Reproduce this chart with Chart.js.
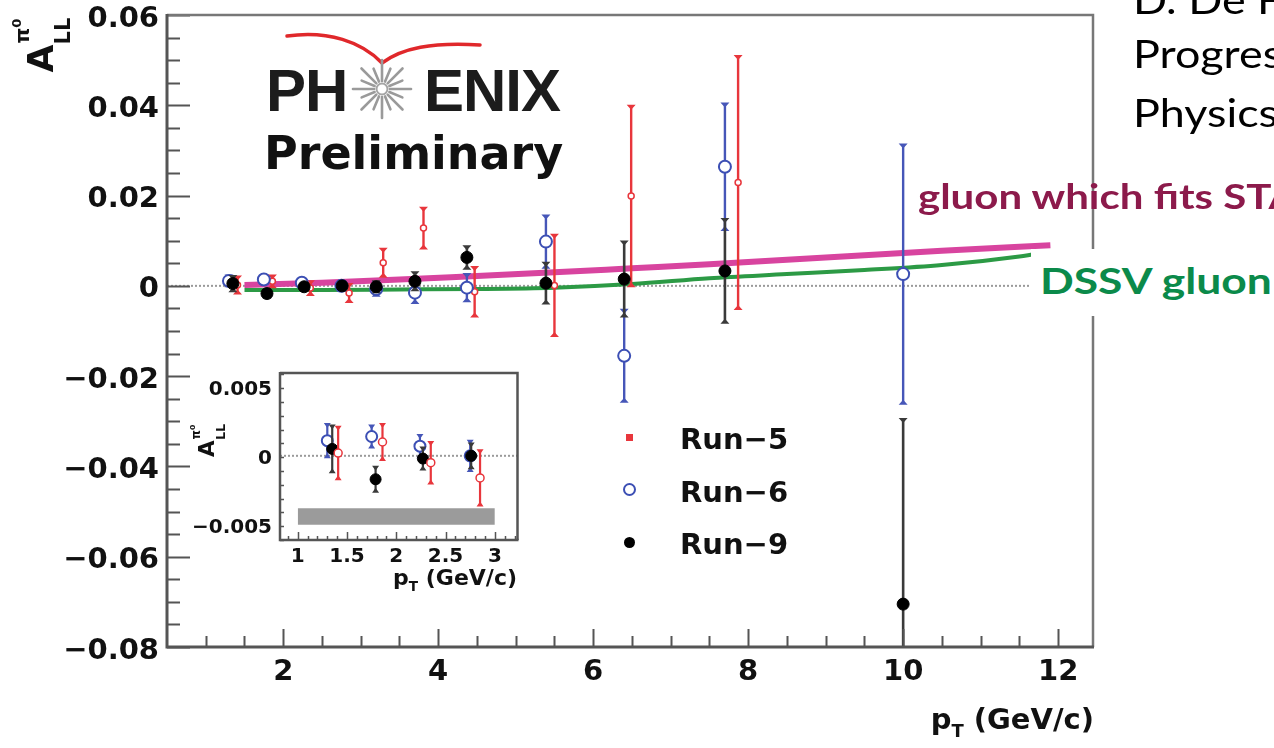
<!DOCTYPE html>
<html>
<head>
<meta charset="utf-8">
<script src="https://cdn.jsdelivr.net/npm/chart.js@4.4.1/dist/chart.umd.min.js"></script>
<style>
  html, body { margin:0; padding:0; background:#fff; }
  #wrap { position:relative; width:1274px; height:748px; overflow:hidden; background:#fff; }
  canvas { position:absolute; }
  .t { position:absolute; white-space:nowrap; }
  .dv { font-family:'DejaVu Sans', sans-serif; font-weight:bold; color:#111; line-height:1.164; }
  .lato { font-family:Lato, 'Open Sans', sans-serif; line-height:1.2; transform-origin:0 0; }
  .sub { font-size:0.62em; position:relative; top:0.42em; }
</style>
</head>
<body>
<div id="wrap">
  <canvas id="main" width="1274" height="748" style="left:0;top:0"></canvas>
  <canvas id="inset" width="335" height="240" style="left:190px;top:365px"></canvas>

  <!-- PHENIX logo -->
  <svg class="t" style="left:0;top:0" width="600" height="200">
    <path d="M287,36 C328,30 362,42 382,63 C402,48 432,42 480,45" fill="none" stroke="#e0282b" stroke-width="3.5" stroke-linecap="round"/>
    <g stroke="#9a9a9a" stroke-width="2.6" stroke-linecap="round" id="star"></g>
    <circle cx="382" cy="89" r="5.5" fill="#fff" stroke="#a5a5a5" stroke-width="2"/>
  </svg>
  <div class="t" style="left:266px;top:57px;font-family:'Liberation Sans',Arial,sans-serif;font-weight:bold;font-size:60px;line-height:1.117;color:#1c1c1c;letter-spacing:-1px">PH</div>
  <div class="t" style="left:424px;top:57px;font-family:'Liberation Sans',Arial,sans-serif;font-weight:bold;font-size:60px;line-height:1.117;color:#1c1c1c;letter-spacing:-1px">ENIX</div>
  <div class="t dv" style="left:264px;top:127px;font-size:46px">Preliminary</div>

  <!-- legend -->
  <div class="t" style="left:626px;top:434px;width:7px;height:7px;background:#e8363c"></div>
  <div class="t" style="left:623px;top:483px;width:9px;height:9px;border:2px solid #3c4fb4;border-radius:50%;background:#fff"></div>
  <div class="t" style="left:624px;top:537px;width:11px;height:11px;border-radius:50%;background:#000"></div>
  <div class="t dv" style="left:680px;top:423px;font-size:29px">Run−5</div>
  <div class="t dv" style="left:680px;top:476px;font-size:29px">Run−6</div>
  <div class="t dv" style="left:680px;top:528px;font-size:29px">Run−9</div>

  <!-- axis titles -->
  <div class="t dv" style="right:180px;top:703px;font-size:29px">p<span class="sub">T</span> (GeV/c)</div>
  <div class="t dv" style="right:757px;top:565px;font-size:22px">p<span class="sub">T</span> (GeV/c)</div>
  <div id="ytitle" class="t" style="left:13px;top:15px;width:58px;height:57px"></div>
  <div id="ytitle2" class="t" style="left:179px;top:411px;width:58px;height:57px;transform:scale(0.6)"></div>

  <!-- right-side annotations -->
  <div class="t lato" style="left:1133px;top:-24px;font-size:39px;color:#000;transform:scaleX(1.15)">D. De Florian</div>
  <div class="t lato" style="left:1133px;top:30px;font-size:39px;color:#000;transform:scaleX(1.15)">Progress</div>
  <div class="t lato" style="left:1133px;top:89px;font-size:39px;color:#000;transform:scaleX(1.15)">Physics</div>
  <div class="t lato" style="left:918px;top:174px;font-size:35px;font-weight:bold;color:#8c1a4b;transform:scaleX(1.2)">gluon which fits STAR</div>
  <div class="t" style="left:1031px;top:249px;width:250px;height:67px;background:#fff"></div>
  <div class="t lato" style="left:1040px;top:258px;font-size:37px;font-weight:bold;color:#0b8a4a;transform:scaleX(1.2)">DSSV gluon</div>
</div>

<script>
// ---------------- data ----------------
const xTickValues = [2, 4, 6, 8, 10, 12];
const yTickValues = [-0.08, -0.06, -0.04, -0.02, 0, 0.02, 0.04, 0.06];
const insetXTickValues = [1, 1.5, 2, 2.5, 3];
const insetYTickValues = [-0.005, 0, 0.005];

// Run-5 (red)
const run5X   = [1.41, 1.86, 2.35, 2.85, 3.29, 3.81, 4.47, 5.50, 6.49, 7.87];
const run5Y   = [0.0002, 0.0010, -0.0005, -0.0016, 0.0051, 0.0128, -0.0013, 0.0001, 0.0199, 0.0229];
const run5Err = [0.0019, 0.0013, 0.0015, 0.0020, 0.0031, 0.0045, 0.0055, 0.0112, 0.0200, 0.0280];
// Run-6 (blue)
const run6X   = [1.30, 1.75, 2.24, 2.75, 3.20, 3.70, 4.37, 5.39, 6.40, 7.70, 10.0];
const run6Y   = [0.0011, 0.0014, 0.0007, 0.0000, -0.0007, -0.0015, -0.0004, 0.0098, -0.0155, 0.0264, 0.0026];
const run6Err = [0.0012, 0.0008, 0.0008, 0.0011, 0.0015, 0.0023, 0.0030, 0.0058, 0.0102, 0.0140, 0.0287];
// Run-9 (black)
const run9X   = [1.35, 1.79, 2.27, 2.76, 3.20, 3.70, 4.37, 5.39, 6.40, 7.70, 10.0];
const run9Y   = [0.0005, -0.0017, -0.0002, 0.0000, -0.0002, 0.0010, 0.0063, 0.0006, 0.0015, 0.0033, -0.0705];
const run9Err = [0.0017, 0.0009, 0.0008, 0.0009, 0.0012, 0.0020, 0.0025, 0.0045, 0.0083, 0.0115, 0.0410];

// theory curves
const starFitX = [1.5, 2.5, 3.5, 4.5, 5.5, 6.5, 7.5, 8.5, 9.5, 10.5, 11.9];
const starFitY = [0.0002, 0.0007, 0.0014, 0.0022, 0.0030, 0.0039, 0.0048, 0.0058, 0.0068, 0.0078, 0.0090];
const dssvX = [1.5, 2.5, 3.5, 4.5, 5.5, 6.5, 7.5, 8.5, 9.5, 10.5, 11.5, 11.9];
const dssvY = [-0.0009, -0.0009, -0.0008, -0.0007, -0.0004, 0.0004, 0.0017, 0.0026, 0.0035, 0.0046, 0.0065, 0.0076];

// inset systematic band
const sysBandX = [1.0, 3.0];
const sysBandTop = -0.0038;
const sysBandBottom = -0.005;

// ---------------- helpers ----------------
const pts = (xs, ys) => xs.map((x, i) => ({ x, y: ys[i] }));
const RED = '#e8363c', BLUE = '#3c4fb4', BLACK = '#000';

// star rays for logo
(function () {
  const g = document.getElementById('star');
  const cx = 382, cy = 89;
  let s = '';
  for (let k = 0; k < 16; k++) {
    const a = k * Math.PI / 8;
    const r1 = 8, r2 = (k % 2 === 0) ? 29 : 22;
    s += `<line x1="${cx + r1 * Math.cos(a)}" y1="${cy + r1 * Math.sin(a)}" x2="${cx + r2 * Math.cos(a)}" y2="${cy + r2 * Math.sin(a)}"/>`;
  }
  g.innerHTML = s;
})();

// rotated y-axis titles  A_LL^{pi0}
function buildYTitle(el) {
  el.innerHTML = `<div style="position:absolute;left:0.5px;top:-0.5px;width:57px;height:58px;transform:rotate(-90deg);font-family:'DejaVu Sans';font-weight:bold;color:#111">
    <span style="position:absolute;left:0;top:9px;font-size:36px;line-height:1">A</span>
    <span style="position:absolute;left:28px;top:39px;font-size:21px;line-height:1">LL</span>
    <span style="position:absolute;left:29px;top:-2px;font-size:20px;line-height:1">π<span style="font-size:13px;position:relative;top:-8px">0</span></span>
  </div>`;
}
buildYTitle(document.getElementById('ytitle'));
buildYTitle(document.getElementById('ytitle2'));

// ---------------- plugin: frame, inward ticks, zero line, error bars ----------------
const frame = {
  id: 'frame',
  beforeDatasetsDraw(chart, args, o) {
    const { ctx, chartArea: a, scales: { y } } = chart;
    const y0 = y.getPixelForValue(0);
    ctx.save();
    ctx.strokeStyle = '#9a9a9a';
    ctx.lineWidth = o.zeroWidth;
    ctx.setLineDash([2, 2]);
    ctx.beginPath(); ctx.moveTo(a.left, y0); ctx.lineTo(a.right, y0); ctx.stroke();
    ctx.restore();
  },
  beforeDatasetDraw(chart, args, o) {
    const ds = chart.data.datasets[args.index];
    if (!ds.errors) return;
    const { ctx, chartArea: a, scales: { x, y } } = chart;
    ctx.save();
    ctx.beginPath(); ctx.rect(a.left, a.top, a.right - a.left, a.bottom - a.top); ctx.clip();
    ctx.strokeStyle = ds.errorColor;
    ctx.fillStyle = ds.errorColor;
    ctx.lineWidth = ds.errorWidth;
    const cw = o.capWidth;
    ds.data.forEach((p, i) => {
      const e = ds.errors[i];
      const px = x.getPixelForValue(p.x);
      const y1 = y.getPixelForValue(p.y + e), y2 = y.getPixelForValue(p.y - e);
      ctx.beginPath(); ctx.moveTo(px, y1); ctx.lineTo(px, y2); ctx.stroke();
      // small triangular caps (ROOT style)
      ctx.beginPath();
      ctx.moveTo(px - cw / 2, y1 - 1); ctx.lineTo(px + cw / 2, y1 - 1); ctx.lineTo(px, y1 + 4); ctx.closePath();
      ctx.moveTo(px - cw / 2, y2 + 1); ctx.lineTo(px + cw / 2, y2 + 1); ctx.lineTo(px, y2 - 4); ctx.closePath();
      ctx.fill();
    });
    ctx.restore();
  },
  afterDraw(chart, args, o) {
    const { ctx, chartArea: a, scales: { x, y } } = chart;
    ctx.save();
    // ticks (inward)
    ctx.strokeStyle = o.axisColor;
    ctx.lineWidth = o.tickWidth;
    ctx.beginPath();
    for (let v = o.xMinorStart; v <= x.max + 1e-9; v += o.xMinorStep) {
      const isMajor = Math.abs(v / o.xMajorStep - Math.round(v / o.xMajorStep)) < 1e-6;
      const px = Math.round(x.getPixelForValue(v)) + 0.5;
      ctx.moveTo(px, a.bottom); ctx.lineTo(px, a.bottom - (isMajor ? o.xMajorLen : o.xMinorLen));
    }
    for (let v = y.min; v <= y.max + 1e-9; v += o.yMinorStep) {
      const isMajor = Math.abs(v / o.yMajorStep - Math.round(v / o.yMajorStep)) < 1e-6;
      const py = Math.round(y.getPixelForValue(v)) + 0.5;
      ctx.moveTo(a.left, py); ctx.lineTo(a.left + (isMajor ? o.yMajorLen : o.yMinorLen), py);
    }
    ctx.stroke();
    // frame
    ctx.strokeStyle = o.frameColor;
    ctx.lineWidth = o.frameWidth;
    ctx.beginPath();
    ctx.moveTo(a.left, a.top); ctx.lineTo(a.right, a.top); ctx.lineTo(a.right, a.bottom);
    ctx.stroke();
    ctx.strokeStyle = o.axisColor;
    ctx.lineWidth = o.axisWidth;
    ctx.beginPath();
    ctx.moveTo(a.left, a.top - 1); ctx.lineTo(a.left, a.bottom); ctx.lineTo(a.right + 1, a.bottom);
    ctx.stroke();
    ctx.restore();
  }
};

const fmtY = (v, d) => v === 0 ? '0' : (v < 0 ? '−' : '') + Math.abs(v).toFixed(d);

function scaleX(min, max, values, h, font, pad) {
  return {
    type: 'linear', min, max,
    afterBuildTicks: s => { s.ticks = values.map(v => ({ value: v })); },
    afterFit: s => { s.height = h; s.paddingLeft = 0; s.paddingRight = 0; },
    grid: { display: false, drawTicks: false },
    border: { display: false },
    ticks: { autoSkip: false, maxRotation: 0, padding: pad, color: '#111',
             font: { family: 'DejaVu Sans', weight: 'bold', size: font },
             callback: v => String(v) }
  };
}
function scaleY(min, max, values, w, font, pad, dec, off) {
  return {
    type: 'linear', min, max,
    afterBuildTicks: s => { s.ticks = values.map(v => ({ value: v })); },
    afterFit: s => { s.width = w; s.paddingTop = 0; s.paddingBottom = 0; },
    grid: { display: false, drawTicks: false },
    border: { display: false },
    ticks: { autoSkip: false, padding: pad, color: '#111', labelOffset: off,
             font: { family: 'DejaVu Sans', weight: 'bold', size: font },
             callback: v => fmtY(v, dec) }
  };
}

// ---------------- main chart ----------------
new Chart(document.getElementById('main'), {
  type: 'scatter',
  data: {
    datasets: [
      { type: 'line', label: 'gluon which fits STAR', data: pts(starFitX, starFitY), borderColor: '#d8449f',
        borderWidth: 6, pointRadius: 0, cubicInterpolationMode: 'monotone', fill: false, order: 10 },
      { type: 'line', label: 'DSSV gluon', data: pts(dssvX, dssvY), borderColor: '#2c9a45',
        borderWidth: 4, pointRadius: 0, cubicInterpolationMode: 'monotone', fill: false, order: 9 },
      { label: 'Run−5', data: pts(run5X, run5Y), errors: run5Err, errorColor: RED, errorWidth: 2.4,
        pointRadius: 3, borderWidth: 1.5, borderColor: RED, backgroundColor: '#fff', order: 3 },
      { label: 'Run−6', data: pts(run6X, run6Y), errors: run6Err, errorColor: '#4656b8', errorWidth: 2.4,
        pointRadius: 6, borderWidth: 2, borderColor: BLUE, backgroundColor: '#fff', order: 2 },
      { label: 'Run−9', data: pts(run9X, run9Y), errors: run9Err, errorColor: '#3a3a3a', errorWidth: 2.6,
        pointRadius: 6, borderWidth: 1, borderColor: BLACK, backgroundColor: BLACK, order: 1 }
    ]
  },
  options: {
    responsive: false, animation: false, devicePixelRatio: 1,
    layout: { padding: { left: 0, right: 181, top: 15, bottom: 0 } },
    plugins: {
      legend: { display: false }, tooltip: { enabled: false },
      frame: { zeroWidth: 2, capWidth: 9, axisColor: '#555', axisWidth: 3, frameColor: '#777', frameWidth: 2.5,
               tickWidth: 2, xMinorStart: 1, xMinorStep: 0.5, xMajorStep: 2, xMajorLen: 18, xMinorLen: 11,
               yMinorStep: 0.005, yMajorStep: 0.02, yMajorLen: 23, yMinorLen: 13 }
    },
    scales: {
      x: scaleX(0.5, 12.45, xTickValues, 101, 29, 8),
      y: scaleY(-0.08, 0.06, yTickValues, 167, 29, 8, 2, 4)
    }
  },
  plugins: [frame]
});

// ---------------- inset chart ----------------
const inR = v => v < 3;
const sub = (xs, ys) => xs.map((x, i) => ({ x, y: ys[i] })).filter(p => inR(p.x));
const subE = (xs, es) => es.filter((e, i) => inR(xs[i]));
new Chart(document.getElementById('inset'), {
  type: 'scatter',
  data: {
    datasets: [
      { type: 'line', label: 'sys', data: sysBandX.map(x => ({ x, y: sysBandTop })), borderWidth: 0,
        borderColor: 'rgba(0,0,0,0)', backgroundColor: '#9b9b9b', pointRadius: 0, fill: { value: sysBandBottom }, order: 10 },
      { label: 'Run−5', data: sub(run5X, run5Y), errors: subE(run5X, run5Err), errorColor: RED, errorWidth: 2.2,
        pointRadius: 4, borderWidth: 1.5, borderColor: RED, backgroundColor: '#fff', order: 1 },
      { label: 'Run−6', data: sub(run6X, run6Y), errors: subE(run6X, run6Err), errorColor: '#4656b8', errorWidth: 2.2,
        pointRadius: 5.5, borderWidth: 2, borderColor: BLUE, backgroundColor: '#fff', order: 3 },
      { label: 'Run−9', data: sub(run9X, run9Y), errors: subE(run9X, run9Err), errorColor: '#3a3a3a', errorWidth: 2.2,
        pointRadius: 5.5, borderWidth: 1, borderColor: BLACK, backgroundColor: BLACK, order: 2 }
    ]
  },
  options: {
    responsive: false, animation: false, devicePixelRatio: 1,
    layout: { padding: { left: 0, right: 7, top: 8, bottom: 0 } },
    plugins: {
      legend: { display: false }, tooltip: { enabled: false },
      frame: { zeroWidth: 2, capWidth: 7, axisColor: '#555', axisWidth: 2.5, frameColor: '#555', frameWidth: 2.5,
               tickWidth: 1.5, xMinorStart: 0.9, xMinorStep: 0.1, xMajorStep: 0.5, xMajorLen: 8, xMinorLen: 4,
               yMinorStep: 0.001, yMajorStep: 0.005, yMajorLen: 8, yMinorLen: 4 }
    },
    scales: {
      x: scaleX(0.82, 3.23, insetXTickValues, 65, 20, 5),
      y: scaleY(-0.0061, 0.006, insetYTickValues, 90, 20, 8, 3, 3)
    }
  },
  plugins: [frame]
});
</script>
</body>
</html>
